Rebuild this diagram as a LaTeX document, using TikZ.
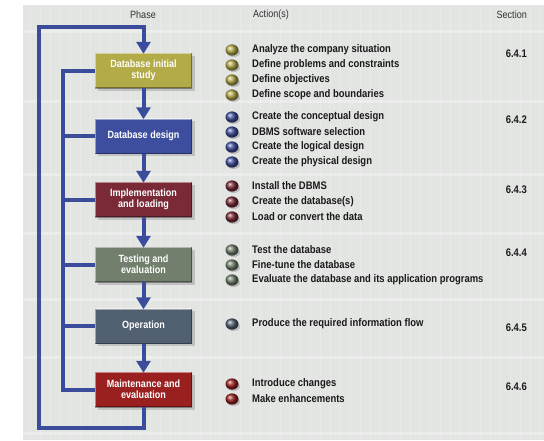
\documentclass[tikz,border=0pt]{standalone}
\usepackage{fontspec}
\setmainfont{Liberation Sans}[FakeStretch=0.86]
\usetikzlibrary{arrows.meta,shadows}
\definecolor{panel}{HTML}{E3E5E3}
\definecolor{flowblue}{HTML}{3C4C9C}
\definecolor{cA}{HTML}{B3AA48}
\definecolor{cB}{HTML}{3E4E9E}
\definecolor{cC}{HTML}{7A2A36}
\definecolor{cD}{HTML}{717F6C}
\definecolor{cE}{HTML}{506070}
\definecolor{cF}{HTML}{9A2020}
\definecolor{txt}{HTML}{1A1A1A}
\tikzset{
  phasebox/.style={rectangle, minimum width=97pt, minimum height=35pt, inner sep=1pt,
    text=white, font=\bfseries\fontsize{10.5}{11}\selectfont, align=center,
    drop shadow={shadow xshift=2.5pt, shadow yshift=-2.5pt, opacity=0.35},
    path picture={
      \draw[white, opacity=.45, line width=2pt]
        (path picture bounding box.south west) -- (path picture bounding box.north west)
        -- (path picture bounding box.north east);
      \draw[black, opacity=.35, line width=2pt]
        (path picture bounding box.north east) -- (path picture bounding box.south east)
        -- (path picture bounding box.south west);
    }},
  flow/.style={draw=flowblue, line width=4pt, line join=miter},
  flowarrow/.style={flow, -{Triangle[width=14pt,length=12pt]}, shorten >=-1pt},
  action/.style={anchor=west, inner sep=0pt, text=txt, font=\bfseries\fontsize{11}{12}\selectfont},
  secnum/.style={anchor=east, inner sep=0pt, text=txt, font=\bfseries\fontsize{11}{12}\selectfont},
  header/.style={inner sep=0pt, text=txt!90, font=\fontsize{10.5}{12}\selectfont},
}
\newcommand{\bulletball}[2]{%
  \fill[black, opacity=.18] (233.5,#1+2.5) ellipse (6.5pt and 4.5pt);
  \shade[ball color=#2] (232,#1) ellipse (6.5pt and 5.6pt);
}
\begin{document}
\begin{tikzpicture}[x=1pt,y=-1pt]
\useasboundingbox (0,0) rectangle (544,440);
% background panel
\fill[white] (0,0) rectangle (544,440);
\fill[panel] (23,5) rectangle (544,440);
\foreach \xx in {30,40,...,540} \draw[white, opacity=.2, line width=0.8pt] (\xx,5) -- (\xx,440);
\foreach \yy in {30,100,173,232,298,356,432} \fill[white, opacity=.3] (23,\yy) rectangle (544,\yy+2.5);
% headers
\node[header] (hphase) at (143,15) {Phase};
\node[header, anchor=west] (haction) at (253,15) {Action(s)};
\node[header, anchor=east] (hsection) at (527,15) {Section};
% phase boxes
\node[phasebox, fill=cA] (b1) at (143.5,70.5) {Database initial\\study};
\node[phasebox, fill=cB] (b2) at (143.5,136) {Database design};
\node[phasebox, fill=cC] (b3) at (143.5,199.5) {Implementation\\and loading};
\node[phasebox, fill=cD] (b4) at (143.5,264.5) {Testing and\\evaluation};
\node[phasebox, fill=cE] (b5) at (143.5,326) {Operation};
\node[phasebox, fill=cF] (b6) at (143.5,389.5) {Maintenance and\\evaluation};
% connectors between boxes
\draw[flowarrow] (b1) -- (b2);
\draw[flowarrow] (b2) -- (b3);
\draw[flowarrow] (b3) -- (b4);
\draw[flowarrow] (b4) -- (b5);
\draw[flowarrow] (b5) -- (b6);
% outer loop
\coordinate (lb) at (39,428);
\coordinate (lt) at (39,27);
\draw[flowarrow] (b6.south) |- (lb) -- (lt) -| (b1.north);
% inner bus
\coordinate (bx) at (63,0);
\draw[flow] (b1.west) -- (b1.west -| bx) -- (b6.west -| bx) -- (b6.west);
\draw[flow] (b2.west) -- (b2.west -| bx);
\draw[flow] (b3.west) -- (b3.west -| bx);
\draw[flow] (b4.west) -- (b4.west -| bx);
\draw[flow] (b5.west) -- (b5.west -| bx);
% bullets
\bulletball{50}{cA}\bulletball{65}{cA}\bulletball{80}{cA}\bulletball{95}{cA}
\bulletball{117}{cB}\bulletball{132}{cB}\bulletball{147}{cB}\bulletball{162}{cB}
\bulletball{186}{cC}\bulletball{202}{cC}\bulletball{217}{cC}
\bulletball{250}{cD}\bulletball{265}{cD}\bulletball{280}{cD}
\bulletball{324}{cE}
\bulletball{384}{cF}\bulletball{399}{cF}
% actions
\node[action] (a11) at (252,50) {Analyze the company situation};
\node[action] (a12) at (252,65) {Define problems and constraints};
\node[action] (a13) at (252,80) {Define objectives};
\node[action] (a14) at (252,95) {Define scope and boundaries};
\node[action] (a21) at (252,117) {Create the conceptual design};
\node[action] (a22) at (252,132) {DBMS software selection};
\node[action] (a23) at (252,147) {Create the logical design};
\node[action] (a24) at (252,162) {Create the physical design};
\node[action] (a31) at (252,186) {Install the DBMS};
\node[action] (a32) at (252,202) {Create the database(s)};
\node[action] (a33) at (252,217) {Load or convert the data};
\node[action] (a41) at (252,250) {Test the database};
\node[action] (a42) at (252,265) {Fine-tune the database};
\node[action] (a43) at (252,280) {Evaluate the database and its application programs};
\node[action] (a51) at (252,324) {Produce the required information flow};
\node[action] (a61) at (252,384) {Introduce changes};
\node[action] (a62) at (252,399) {Make enhancements};
% sections
\node[secnum] (s1) at (527,54) {6.4.1};
\node[secnum] (s2) at (527,120) {6.4.2};
\node[secnum] (s3) at (527,190) {6.4.3};
\node[secnum] (s4) at (527,253) {6.4.4};
\node[secnum] (s5) at (527,328) {6.4.5};
\node[secnum] (s6) at (527,387) {6.4.6};
\end{tikzpicture}
\end{document}
